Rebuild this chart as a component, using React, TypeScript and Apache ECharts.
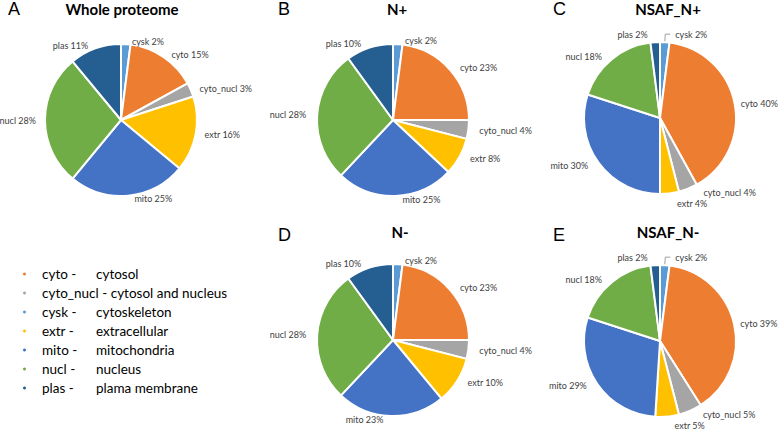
import React, { useEffect, useRef } from "react";
import * as echarts from "echarts";

const sliceNames = ["cysk", "cyto", "cyto_nucl", "extr", "mito", "nucl", "plas"];
const sliceColors = ["#5B9BD5", "#ED7D31", "#A5A5A5", "#FFC000", "#4472C4", "#70AD47", "#255E91"];

const wholeProteome = [2, 15, 3, 16, 25, 28, 11];
const nPlus = [2, 23, 4, 8, 25, 28, 10];
const nsafNPlus = [2, 40, 4, 4, 30, 18, 2];
const nMinus = [2, 23, 4, 10, 23, 28, 10];
const nsafNMinus = [2, 39, 5, 5, 29, 18, 2];

const panelLetters = ["A", "B", "C", "D", "E"];
const panelTitles = ["Whole proteome", "N+", "NSAF_N+", "N-", "NSAF_N-"];

const legendOrder = ["cyto", "cyto_nucl", "cysk", "extr", "mito", "nucl", "plas"];
const legendDescriptions = [
  "cytosol",
  "cytosol and nucleus",
  "cytoskeleton",
  "extracellular",
  "mitochondria",
  "nucleus",
  "plama membrane",
];

export default function App() {
  const ref = useRef<HTMLDivElement>(null);

  useEffect(() => {
    if (!ref.current) return;
    const chart = echarts.init(ref.current, undefined, { renderer: "svg" });

    const panels = [
      { values: wholeProteome, center: [121, 120], letter: [8, 0], title: [122, 9], nsaf: false },
      { values: nPlus, center: [393, 120], letter: [278, 0], title: [397, 9], nsaf: false },
      { values: nsafNPlus, center: [660, 118], letter: [553, 0], title: [668, 9], nsaf: true },
      { values: nMinus, center: [393, 340], letter: [278, 226], title: [400, 232], nsaf: false },
      { values: nsafNMinus, center: [660, 341], letter: [553, 226], title: [668, 232], nsaf: true },
    ];

    const font = "Lato, 'Liberation Sans', sans-serif";

    const series = panels.map((p, pi) => ({
      type: "pie",
      center: p.center,
      radius: 76,
      startAngle: 90,
      clockwise: true,
      avoidLabelOverlap: true,
      itemStyle: { borderColor: "#ffffff", borderWidth: 2 },
      label: {
        show: true,
        position: "outside",
        formatter: "{b} {c}%",
        fontFamily: font,
        fontSize: 9,
        color: "#404040",
        overflow: "none",
      },
      labelLine: { show: false, length: pi === 0 ? 3 : 4, length2: pi === 0 ? 1 : 2 },
      emphasis: { disabled: true },
      data: sliceNames.map((n, i) => {
        const item: any = {
          name: n,
          value: p.values[i],
          itemStyle: { color: sliceColors[i] },
        };
        if (p.nsaf && n === "cysk") {
          item.labelLine = { show: true, length: 8, length2: 5, lineStyle: { color: "#A0A0A0", width: 1 } };
        }
        if (p.nsaf && n === "plas") {
          item.labelLine = { show: false, length: 8, length2: 2 };
        }
        return item;
      }),
    }));

    const graphics: any[] = [];
    panels.forEach((p, i) => {
      graphics.push({
        type: "text",
        x: p.letter[0],
        y: p.letter[1],
        style: {
          text: panelLetters[i],
          font: "18px 'Liberation Sans', Arial, sans-serif",
          fill: "#000",
          verticalAlign: "top",
          align: "left",
        },
      });
      graphics.push({
        type: "text",
        x: p.title[0],
        y: p.title[1],
        style: {
          text: panelTitles[i],
          font: "bold 15px Lato, sans-serif",
          fill: "#000",
          verticalAlign: "middle",
          align: "center",
        },
      });
    });

    chart.setOption({
      animation: false,
      backgroundColor: "#ffffff",
      legend: {
        orient: "vertical",
        left: 16,
        top: 262,
        icon: "circle",
        itemWidth: 5,
        itemHeight: 5,
        itemGap: 5,
        selectedMode: false,
        data: legendOrder,
        formatter: (name: string) => {
          const idx = legendOrder.indexOf(name);
          const desc = legendDescriptions[idx];
          if (name === "cyto_nucl") return `{a|${name} - ${desc}}`;
          return `{k|${name} -}{v|${desc}}`;
        },
        textStyle: {
          fontFamily: font,
          fontSize: 13.5,
          color: "#000",
          padding: [0, 0, 0, 10],
          rich: {
            a: { fontFamily: font, fontSize: 13.5, color: "#000", lineHeight: 14 },
            k: { fontFamily: font, fontSize: 13.5, color: "#000", width: 54, lineHeight: 14 },
            v: { fontFamily: font, fontSize: 13.5, color: "#000", lineHeight: 14 },
          },
        },
      },
      graphic: graphics,
      series,
    });

    return () => chart.dispose();
  }, []);

  return (
    <div
      ref={ref}
      style={{ position: "fixed", left: 0, top: 0, width: 778, height: 432 }}
    />
  );
}
